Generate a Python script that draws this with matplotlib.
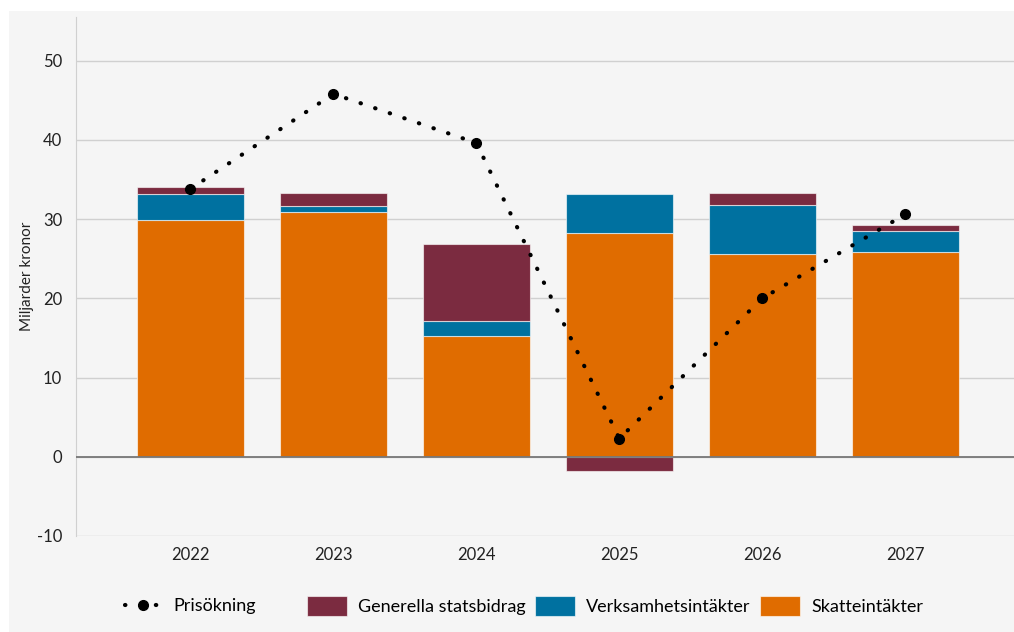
import matplotlib.pyplot as plt
import numpy as np
from matplotlib.patches import Rectangle

plt.rcParams['font.family'] = ['Lato', 'DejaVu Sans']
plt.rcParams['axes.unicode_minus'] = False

# Data (miljarder kronor)
years = ['2022', '2023', '2024', '2025', '2026', '2027']
skatt = [29.9, 30.9, 15.2, 28.2, 25.6, 25.9]
verksamhet = [3.3, 0.7, 1.9, 4.9, 6.2, 2.6]
statsbidrag = [0.9, 1.7, 9.8, -1.85, 1.5, 0.8]
prisokning = [33.8, 45.8, 39.6, 2.3, 20.0, 30.6]

c_skatt = '#E06C00'
c_verk = '#0071A0'
c_stats = '#7B2B40'
bg = '#F5F5F5'

fig = plt.figure(figsize=(10.14, 6.32), dpi=100)
fig.patch.set_facecolor('white')
fig.patches.append(Rectangle((9 / 1014, 0), 1, 1 - 11 / 632, transform=fig.transFigure,
                             facecolor=bg, edgecolor='none', zorder=-10))
ax = fig.add_axes([76 / 1014, (632 - 536) / 632, (1014 - 76) / 1014, (536 - 17) / 632])
ax.set_facecolor(bg)

x = np.arange(len(years))
w = 0.75
ec = (1, 1, 1, 0.6)

skatt = np.array(skatt)
verksamhet = np.array(verksamhet)
statsbidrag = np.array(statsbidrag)
pos_base = skatt + verksamhet
stats_bottom = np.where(statsbidrag >= 0, pos_base, 0)

b1 = ax.bar(x, skatt, w, color=c_skatt, edgecolor=ec, linewidth=0.8, zorder=3)
b2 = ax.bar(x, verksamhet, w, bottom=skatt, color=c_verk, edgecolor=ec, linewidth=0.8, zorder=3)
b3 = ax.bar(x, statsbidrag, w, bottom=stats_bottom, color=c_stats, edgecolor=ec, linewidth=0.8, zorder=3)

ln, = ax.plot(x, prisokning, color='black', linewidth=3, linestyle=(0, (0.1, 3.6)),
              dash_capstyle='round', marker='o', markersize=7, zorder=5)

ax.axhline(0, color='#777777', linewidth=1.3, zorder=4)
ax.set_ylim(-10, 55.5)
ax.set_xlim(-0.8, 5.76)
ax.set_yticks([-10, 0, 10, 20, 30, 40, 50])
ax.set_xticks(x)
ax.set_xticklabels(years)
ax.grid(axis='y', color='#D0D0D0', linewidth=1, zorder=0)
ax.tick_params(length=0, labelsize=12, colors='#222222', pad=8)
ax.tick_params(axis='y', pad=10)
for s in ['top', 'right', 'bottom']:
    ax.spines[s].set_visible(False)
ax.spines['left'].set_color('#D0D0D0')
ax.spines['left'].set_bounds(-10, 55.5)
ax.set_ylabel('Miljarder kronor', fontsize=11, color='#222222')
ax.yaxis.set_label_coords(-42 / 938, 0.5)

ly = (632 - 606) / 632
fig.legend([ln], ['Prisökning'], loc='center left', bbox_to_anchor=(125 / 1014, ly),
           frameon=False, fontsize=13, handlelength=1.94, handletextpad=0.72,
           borderpad=0, borderaxespad=0)
fig.legend([b3, b2, b1], ['Generella statsbidrag', 'Verksamhetsintäkter', 'Skatteintäkter'],
           loc='center left', ncol=3, bbox_to_anchor=(307 / 1014, ly), frameon=False,
           fontsize=13, handlelength=2.2, handleheight=1.38, columnspacing=0.55,
           handletextpad=0.61, borderpad=0, borderaxespad=0)

fig.savefig('out.png', dpi=100, facecolor=fig.get_facecolor())
